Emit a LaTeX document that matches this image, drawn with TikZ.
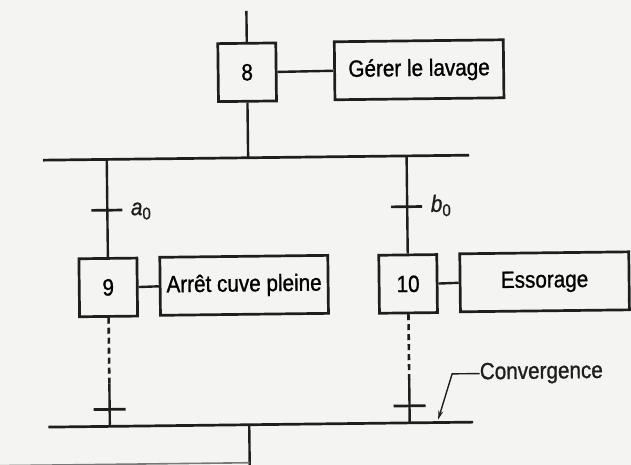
\documentclass[tikz,border=0pt]{standalone}
\usepackage{fontspec}
\setmainfont[FakeStretch=0.88,FakeBold=1.0]{Liberation Sans}
\usetikzlibrary{arrows.meta}
\definecolor{paper}{RGB}{244,244,242}
\definecolor{ink}{RGB}{30,30,30}
\tikzset{
  base/.style={draw=ink, line width=2.7pt},
  stepbox/.style={base, minimum width=58pt, minimum height=58pt, inner sep=0pt, font=\fontsize{23.5}{26}\selectfont},
  actbox/.style={base, minimum width=168pt, minimum height=58pt, inner sep=0pt, font=\fontsize{23.5}{26}\selectfont},
  wire/.style={draw=ink, line width=2.4pt},
  bar/.style={draw=ink, line width=2.7pt},
  dashwire/.style={draw=ink, line width=2.6pt, dash pattern=on 6pt off 4pt},
  lbl/.style={text=ink, inner sep=0pt, font=\fontsize{23.5}{26}\selectfont},
}
\begin{document}
\begin{tikzpicture}[x=1pt,y=-1pt]
\useasboundingbox (0,0) rectangle (631,465);
\fill[paper] (0,0) rectangle (631,465);
\begin{scope}[rotate around={0.67:(315,232)}, transform shape]
  % steps and actions
  \node[stepbox] (s8) at (249,71.5) {8};
  \node[actbox, minimum width=169pt] (a8) at (421,71) {Gérer le lavage};
  \node[stepbox] (s9) at (107.6,285) {9};
  \node[actbox] (a9) at (243.5,284.5) {Arrêt cuve pleine};
  \node[stepbox] (s10) at (407.5,285) {10};
  \node[actbox, minimum width=169pt] (a10) at (544,284.5) {Essorage};
  % coordinates
  \coordinate (top) at (249,10);
  \coordinate (dL) at (44,157);
  \coordinate (dR) at (470,157);
  \coordinate (d8) at (249,157);
  \coordinate (d9) at (107.6,157);
  \coordinate (d10) at (407.5,157);
  \coordinate (t9) at (107.6,207.8);
  \coordinate (t10) at (407.5,207.8);
  \coordinate (e9) at (107.6,381);
  \coordinate (e10) at (407.5,381);
  \coordinate (u9) at (107.6,407);
  \coordinate (u10) at (407.5,407);
  \coordinate (cL) at (46,424);
  \coordinate (cR) at (471,424);
  \coordinate (c9) at (107.6,424);
  \coordinate (c10) at (407.5,424);
  \coordinate (cout) at (247,424);
  \coordinate (bot) at (247,475);
  \coordinate (bL) at (-10,462);
  \coordinate (bR) at (247,462);
  % links
  \draw[wire] (top) -- (s8.north);
  \draw[wire] (s8.east) -- (a8.west);
  \draw[wire] (s8.south) -- (d8);
  \draw[bar] (dL) -- (dR);
  \draw[wire] (d9) -- (s9.north);
  \draw[wire] (d10) -- (s10.north);
  \draw[wire] (s9.east) -- (a9.west);
  \draw[wire] (s10.east) -- (a10.west);
  % transitions
  \draw[bar] ([xshift=-16pt]t9) -- ([xshift=15pt]t9);
  \draw[bar] ([xshift=-16pt]t10) -- ([xshift=15pt]t10);
  \node[lbl, anchor=west] (la0) at (131,209) {\textit{a}\raisebox{-0.35ex}{\fontsize{17}{19}\selectfont 0}};
  \node[lbl, anchor=west] (lb0) at (431,207) {\textit{b}\raisebox{-0.35ex}{\fontsize{17}{19}\selectfont 0}};
  % convergence branches
  \draw[dashwire] (s9.south) -- (e9);
  \draw[dashwire] (s10.south) -- (e10);
  \draw[wire] (e9) -- (c9);
  \draw[wire] (e10) -- (c10);
  \draw[bar] ([xshift=-16pt]u9) -- ([xshift=16pt]u9);
  \draw[bar] ([xshift=-16pt]u10) -- ([xshift=16pt]u10);
  \draw[bar] (cL) -- (cR);
  \draw[wire] (cout) -- (bot);
  \draw[draw=ink!60, line width=1.6pt] (bL) -- (bR);
  % convergence label
  \node[lbl, anchor=west] (conv) at (478,375.5) {Convergence};
  \coordinate (kink) at (450.5,375.5);
  \coordinate (tip) at (436,421);
  \draw[draw=ink, line width=1.4pt, -{Stealth[length=9pt,width=5pt]}] (conv.west) -- (kink) -- (tip);
\end{scope}
\end{tikzpicture}
\end{document}
